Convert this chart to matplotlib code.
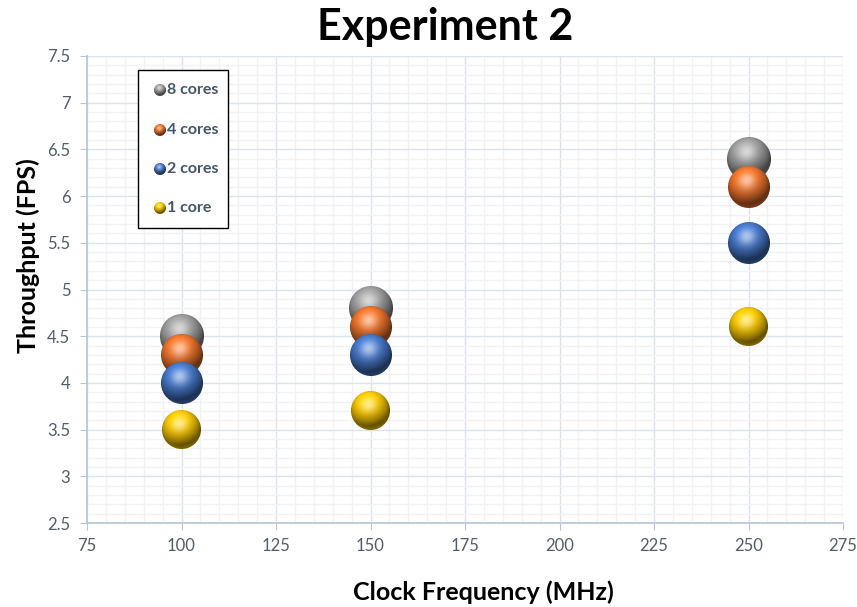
import numpy as np
import matplotlib
matplotlib.use("Agg")
import matplotlib.pyplot as plt
from matplotlib.ticker import MultipleLocator
from matplotlib.offsetbox import OffsetImage, AnnotationBbox
from matplotlib.patches import Rectangle
from matplotlib.colors import to_rgb

plt.rcParams['font.family'] = ['Lato', 'DejaVu Sans']

# ---- data ----
clock_mhz = [100, 150, 250]
series_names = ["8 cores", "4 cores", "2 cores", "1 core"]
fps_8_cores = [4.5, 4.8, 6.4]
fps_4_cores = [4.3, 4.6, 6.1]
fps_2_cores = [4.0, 4.3, 5.5]
fps_1_core = [3.5, 3.7, 4.6]
series_values = [fps_8_cores, fps_4_cores, fps_2_cores, fps_1_core]

# ---- style ----
sphere_colors = ["#9a9a9a", "#e8702a", "#4474c4", "#f2c200"]
sphere_diam_px = [44, 42, 42, 39]
legend_diam_px = 12


def sphere_image(color, d, ss=4):
    """Render a shaded glossy sphere as an RGBA array of size d x d."""
    n = d * ss
    c = (np.arange(n) + 0.5) / n * 2 - 1
    u, v = np.meshgrid(c, -c)
    r2 = u ** 2 + v ** 2
    inside = r2 <= 1.0
    z = np.sqrt(np.clip(1 - r2, 0, 1))
    L = np.array([-0.2, 0.6, 0.77])
    L /= np.linalg.norm(L)
    diffuse = np.clip(u * L[0] + v * L[1] + z * L[2], 0, 1)
    H = L + np.array([0, 0, 1.0])
    H /= np.linalg.norm(H)
    spec = np.clip(u * H[0] + v * H[1] + z * H[2], 0, 1) ** 12
    base = np.array(to_rgb(color))
    shade = 0.40 + 0.72 * diffuse
    rgb = base[None, None, :] * shade[..., None]
    # soft reflected light near the lower rim
    rim = np.clip((np.sqrt(r2) - 0.75) / 0.25, 0, 1) * np.clip(-v, 0, 1) * 0.25
    rgb = rgb + (base[None, None, :] - rgb) * rim[..., None]
    rgb = np.clip(rgb, 0, 1)
    rgb = rgb + (1 - rgb) * (0.55 * spec)[..., None]
    alpha = inside.astype(float)
    img = np.dstack([rgb, alpha])
    img[..., :3] *= img[..., 3:4]
    img = img.reshape(d, ss, d, ss, 4).mean(axis=(1, 3))
    a = img[..., 3:4]
    img[..., :3] = np.where(a > 0, img[..., :3] / np.maximum(a, 1e-6), 0)
    return np.clip(img, 0, 1)


fig = plt.figure(figsize=(8.57, 6.07), dpi=100)
ax = fig.add_axes([87 / 857, 1 - 523 / 607, (843 - 87) / 857, (523 - 56) / 607])

ax.set_xlim(75, 275)
ax.set_ylim(2.5, 7.5)
ax.xaxis.set_major_locator(MultipleLocator(25))
ax.xaxis.set_minor_locator(MultipleLocator(5))
ax.yaxis.set_major_locator(MultipleLocator(0.5))
ax.yaxis.set_minor_locator(MultipleLocator(0.1))
ax.set_yticks(np.arange(2.5, 7.51, 0.5))
ax.set_yticklabels(["2.5", "3", "3.5", "4", "4.5", "5", "5.5", "6", "6.5", "7", "7.5"])

ax.set_axisbelow(True)
ax.grid(which="minor", color="#f0f2f6", linewidth=1.0)
ax.grid(which="major", color="#dde3ec", linewidth=1.0)

for side in ("top", "right"):
    ax.spines[side].set_visible(False)
for side in ("left", "bottom"):
    ax.spines[side].set_color("#b8c4d6")
    ax.spines[side].set_linewidth(1.2)
ax.tick_params(which="major", direction="out", length=5, color="#b8c4d6",
               labelcolor="#535c6b", labelsize=12)
ax.tick_params(axis="y", which="major", pad=7)
ax.tick_params(axis="x", which="major", pad=6)
ax.tick_params(which="minor", length=0)

# bubbles: 8 cores drawn first so smaller series sit on top
for i, (vals, col, d) in enumerate(zip(series_values, sphere_colors, sphere_diam_px)):
    img = sphere_image(col, d)
    for x, y in zip(clock_mhz, vals):
        ab = AnnotationBbox(OffsetImage(img, zoom=1, dpi_cor=False), (x, y),
                            xycoords="data", frameon=False, pad=0,
                            box_alignment=(0.5, 0.5), zorder=3 + i)
        ax.add_artist(ab)

# legend
ax.add_patch(Rectangle((0.067, 0.632), 0.120, 0.338, transform=ax.transAxes,
                       facecolor="white", edgecolor="black", linewidth=1.0,
                       zorder=10))
legend_y = [0.927, 0.842, 0.758, 0.675]
for name, col, ly in zip(series_names, sphere_colors, legend_y):
    img = sphere_image(col, legend_diam_px)
    ab = AnnotationBbox(OffsetImage(img, zoom=1, dpi_cor=False), (0.096, ly),
                        xycoords="axes fraction", frameon=False, pad=0,
                        box_alignment=(0.5, 0.5), zorder=11)
    ax.add_artist(ab)
    ax.text(0.106, ly, name, transform=ax.transAxes, ha="left", va="center",
            fontsize=11.5, fontweight="bold", color="#44546a", zorder=12)

fig.text(445 / 857, 1 - 27 / 607, "Experiment 2", ha="center", va="center",
         fontsize=31, fontweight="bold", color="black")
fig.text(28 / 857, 1 - 256 / 607, "Throughput (FPS)", ha="center", va="center",
         rotation=90, fontsize=18, fontweight="bold", color="black")
fig.text(483 / 857, 1 - 592 / 607, "Clock Frequency (MHz)", ha="center",
         va="center", fontsize=18, fontweight="bold", color="black")

fig.savefig("out.png", dpi=100)
